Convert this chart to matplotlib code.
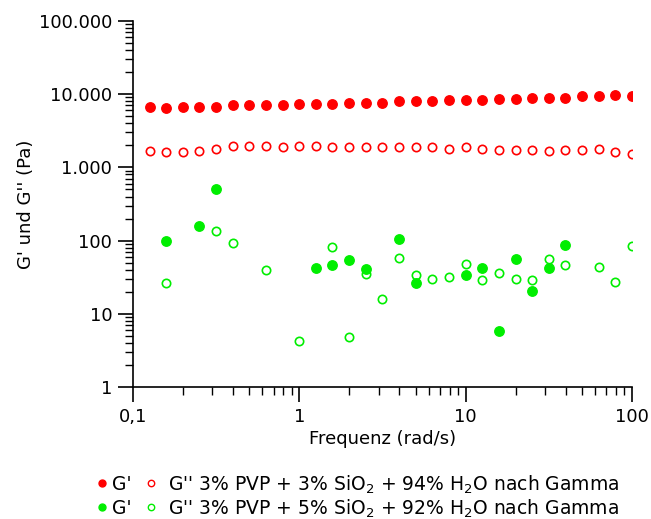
import matplotlib
matplotlib.use("Agg")
import matplotlib.pyplot as plt
from matplotlib.lines import Line2D
from matplotlib.ticker import FixedLocator, LogLocator, NullFormatter

plt.rcParams['font.family'] = ['DejaVu Sans']
plt.rcParams['mathtext.default'] = 'regular'

freq = [0.126, 0.158, 0.2, 0.251, 0.316, 0.398, 0.501, 0.631, 0.794, 1.0,
        1.26, 1.58, 2.0, 2.51, 3.16, 3.98, 5.01, 6.31, 7.94, 10.0,
        12.6, 15.8, 20.0, 25.1, 31.6, 39.8, 50.1, 63.1, 79.4, 100.0]

red_gp = [6710, 6380, 6710, 6710, 6710, 7080, 7080, 7080, 7080, 7370,
          7370, 7370, 7610, 7610, 7610, 7950, 7950, 7950, 8280, 8280,
          8280, 8470, 8470, 8910, 8910, 8910, 9310, 9310, 9600, 9310]
red_gpp = [1684, 1603, 1603, 1684, 1794, 1953, 1953, 1953, 1875, 1953,
           1953, 1875, 1875, 1875, 1875, 1875, 1875, 1875, 1794, 1875,
           1794, 1722, 1722, 1722, 1668, 1722, 1722, 1794, 1603, 1534]

green_gp_x = [0.158, 0.251, 0.316, 1.26, 1.58, 2.0, 2.51, 3.98, 5.01, 10.0,
              12.6, 15.8, 20.0, 25.1, 31.6, 39.8]
green_gp = [98.8, 158, 506, 42.7, 46.0, 54.3, 41.0, 106, 26.1, 33.6,
            42.7, 5.79, 56.1, 20.7, 42.3, 87.1]

green_gpp_x = [0.158, 0.316, 0.398, 0.631, 1.0, 1.58, 2.0, 2.51, 3.16, 3.98,
               5.01, 6.31, 7.94, 10.0, 12.6, 15.8, 20.0, 25.1, 31.6, 39.8,
               63.1, 79.4, 100.0]
green_gpp = [26.4, 135, 91.9, 39.7, 4.23, 80.9, 4.80, 34.7, 15.8, 58.5,
             33.9, 29.9, 32.2, 48.0, 28.7, 36.5, 29.9, 28.7, 56.6, 46.0,
             44.1, 27.5, 83.6]

y_ticks = [1, 10, 100, 1000, 10000, 100000]
y_labels = ['1', '10', '100', '1.000', '10.000', '100.000']
x_ticks = [0.1, 1, 10, 100]
x_labels = ['0,1', '1', '10', '100']

legend_gp = "G'"
legend_rows = ["G'' 3% PVP + 3% SiO$_2$ + 94% H$_2$O nach Gamma",
               "G'' 3% PVP + 5% SiO$_2$ + 92% H$_2$O nach Gamma"]

RED = '#ff0000'
GREEN = '#00ee00'
W, H = 651, 519

fig = plt.figure(figsize=(W / 100, H / 100), dpi=100)
ax = fig.add_axes([0.2043, 0.2538, 0.7665, 0.7062])

ax.plot(freq, red_gp, 'o', color=RED, ms=6.8, mec=RED, ls='none')
ax.plot(freq, red_gpp, 'o', mfc='none', mec=RED, ms=6.0, mew=1.2, ls='none')
ax.plot(green_gp_x, green_gp, 'o', color=GREEN, ms=6.8, mec=GREEN, ls='none')
ax.plot(green_gpp_x, green_gpp, 'o', mfc='none', mec=GREEN, ms=6.0, mew=1.2, ls='none')

ax.set_xscale('log')
ax.set_yscale('log')
ax.set_xlim(0.1, 100)
ax.set_ylim(1, 100000)

ax.yaxis.set_major_locator(FixedLocator(y_ticks))
ax.set_yticklabels(y_labels)
ax.xaxis.set_major_locator(FixedLocator(x_ticks))
ax.set_xticklabels(x_labels)
ax.yaxis.set_minor_locator(LogLocator(base=10, subs=range(2, 10), numticks=20))
ax.xaxis.set_minor_locator(LogLocator(base=10, subs=range(2, 10), numticks=20))
ax.yaxis.set_minor_formatter(NullFormatter())
ax.xaxis.set_minor_formatter(NullFormatter())

for s in ['top', 'right']:
    ax.spines[s].set_visible(False)
for s in ['left', 'bottom']:
    ax.spines[s].set_linewidth(1.2)

ax.tick_params(axis='both', which='major', direction='out', length=11, width=1.2,
               labelsize=13, pad=4)
ax.tick_params(axis='both', which='minor', direction='out', length=6, width=1.0)

ax.set_xlabel('Frequenz (rad/s)', fontsize=13, labelpad=3)
ax.set_ylabel("G' und G'' (Pa)", fontsize=13, labelpad=2.4)

# legend drawn manually (two rows)
row_colors = [RED, GREEN]
row_marker_y = [483, 507]
row_baseline = [490.5, 514.5]
for col, my, by, lab in zip(row_colors, row_marker_y, row_baseline, legend_rows):
    fy = 1 - my / H
    fig.add_artist(Line2D([102 / W], [fy], transform=fig.transFigure, marker='o',
                          ls='none', color=col, mec=col, ms=5.0))
    fig.add_artist(Line2D([151 / W], [fy], transform=fig.transFigure, marker='o',
                          ls='none', mfc='none', mec=col, ms=4.6, mew=1.0))
    fig.text(112 / W, 1 - by / H, legend_gp, fontsize=13.5, va='baseline', ha='left')
    fig.text(168 / W, 1 - by / H, lab, fontsize=13.5, va='baseline', ha='left')

fig.savefig('out.png', dpi=100)
